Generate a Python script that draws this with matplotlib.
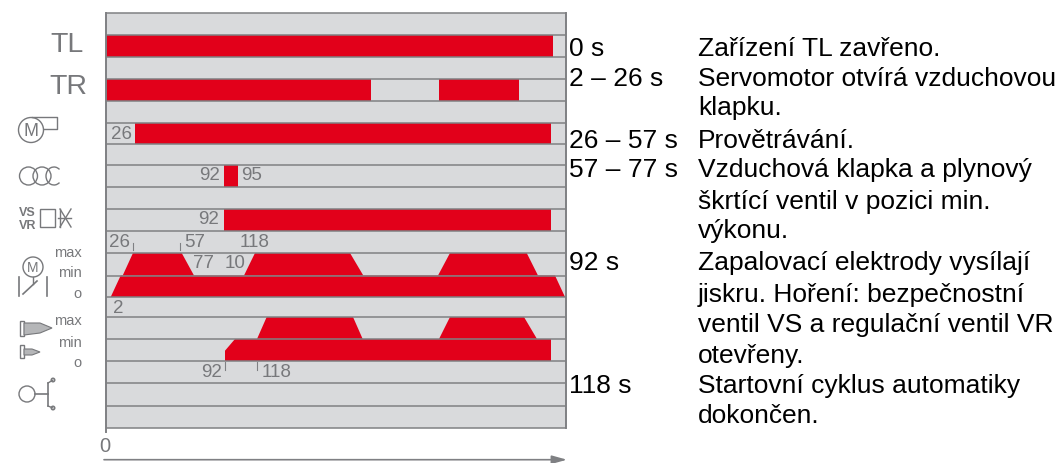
#!/usr/bin/env python3
"""Start-up cycle diagram of a burner control unit, redrawn in image pixel units."""

import matplotlib
matplotlib.use("Agg")
import matplotlib.pyplot as plt
from matplotlib.patches import Arc, Circle, Polygon, Rectangle

GREY_BG = "#d9dadc"
LINE = "#7f8083"
RED = "#e2001a"
LABEL = "#77787b"

chart_left = 106
chart_right = 566
row_edges = [13.5, 35.7, 58, 80, 102, 124, 144.5, 166, 188, 210, 232, 254, 276.5, 298, 318, 340, 362, 384, 406.5, 429]

# (row, start, end) full-height red bars
bar_rows = [1, 3, 3, 5, 7, 9]
bar_starts = [106, 106, 438.5, 135, 224, 224]
bar_ends = [553, 371, 519, 551, 237.5, 551]

# (row, bottom left, top left, top right, bottom right) ramps
ramp_rows = [11, 11, 11, 12, 14, 14]
ramp_bottom_left = [122.7, 244, 438, 110.7, 257, 439]
ramp_top_left = [133, 255, 450, 120.7, 266.7, 450]
ramp_top_right = [181.7, 350, 526.7, 555, 353, 524]
ramp_bottom_right = [194, 363.3, 538, 565, 362.7, 537]

# row 15 opens with a stepped edge
min_flame_x = [225, 235, 551, 551, 225]
min_flame_y = [351.7, 340, 340, 362, 362]

time_labels = ["0 s", "2 – 26 s", "26 – 57 s", "57 – 77 s", "92 s", "118 s"]
time_baselines = [55.7, 85.7, 148, 177, 270, 393]
step_lines = [
    "Zařízení TL zavřeno.",
    "Servomotor otvírá vzduchovou",
    "klapku.",
    "Provětrávání.",
    "Vzduchová klapka a plynový",
    "škrtící ventil v pozici min.",
    "výkonu.",
    "Zapalovací elektrody vysílají",
    "jiskru. Hoření: bezpečnostní",
    "ventil VS a regulační ventil VR",
    "otevřeny.",
    "Startovní cyklus automatiky",
    "dokončen.",
]
step_baselines = [55.7, 85.7, 115, 148, 177, 209, 238, 270, 302, 332, 363, 393, 423]

# small grey numbers inside the chart
mark_labels = ["26", "92", "95", "92", "26", "57", "118", "77", "10", "2", "92", "118"]
mark_x = [121, 210, 252, 209, 120, 195, 255, 203, 235, 118, 212, 277]
mark_y = [135, 176, 176, 220, 243, 243, 243, 264, 264, 309, 373, 373]

level_labels = ["max", "min", "o", "max", "min", "o"]
level_y = [253, 273, 294, 321, 343, 363]

plt.rcParams["font.family"] = ["Liberation Sans", "DejaVu Sans"]

fig = plt.figure(figsize=(10.62, 4.64), dpi=100)
ax = fig.add_axes([0, 0, 1, 1])
ax.set_xlim(0, 1062)
ax.set_ylim(464, 0)
ax.axis("off")


def draw_chart():
    ax.add_patch(Rectangle((chart_left, row_edges[0]), chart_right - chart_left, row_edges[-1] - row_edges[0],
                           facecolor=GREY_BG, edgecolor="none", zorder=1))
    for row, start, end in zip(bar_rows, bar_starts, bar_ends):
        ax.add_patch(Rectangle((start, row_edges[row]), end - start, row_edges[row + 1] - row_edges[row],
                               facecolor=RED, edgecolor="none", zorder=2))
    for row, bl, tl, tr, br in zip(ramp_rows, ramp_bottom_left, ramp_top_left, ramp_top_right, ramp_bottom_right):
        top, bottom = row_edges[row], row_edges[row + 1]
        ax.add_patch(Polygon([(bl, bottom), (tl, top), (tr, top), (br, bottom)],
                             facecolor=RED, edgecolor="none", zorder=2))
    ax.fill(min_flame_x, min_flame_y, color=RED, lw=0, zorder=2)

    for edge in row_edges:
        ax.plot([chart_left, chart_right], [edge, edge], color=LINE, lw=1.1, zorder=3, solid_capstyle="butt")
    ax.plot([chart_left, chart_left], [row_edges[0], row_edges[-1] + 4], color=LINE, lw=1.4, zorder=3)
    ax.plot([chart_right, chart_right], [row_edges[0], row_edges[-1]], color=LINE, lw=1.4, zorder=3)

    # time arrow
    ax.annotate("", xy=(567, 460.7), xytext=(104, 460.7),
                arrowprops=dict(arrowstyle="-|>,head_length=0.9,head_width=0.25", color=LINE, lw=1.2,
                                shrinkA=0, shrinkB=0))
    ax.text(105, 446.5, "0", color=LABEL, fontsize=14.5, ha="center", va="center")

    # little ticks beside the numbers
    for x, y0, y1 in [(133, 244, 251), (180, 244, 251), (225, 363, 371), (257, 363, 371)]:
        ax.plot([x, x], [y0, y1], color=LINE, lw=0.8, zorder=3)


def draw_icons():
    kw = dict(facecolor="none", edgecolor=LABEL, lw=1.0, zorder=3)
    ax.text(67, 45.5, "TL", color=LABEL, fontsize=20.5, ha="center", va="center")
    ax.text(68.5, 87.5, "TR", color=LABEL, fontsize=20.5, ha="center", va="center")

    # motor with flap
    ax.add_patch(Circle((31, 131), 12.5, **kw))
    ax.text(31, 132, "M", color=LABEL, fontsize=13, ha="center", va="center")
    ax.plot([32, 57, 57, 44], [117.5, 117.5, 130, 130], color=LABEL, lw=1.0)

    # ignition transformer coils
    ax.add_patch(Circle((28.5, 177), 9, **kw))
    ax.add_patch(Circle((42, 177), 9, **kw))
    ax.add_patch(Arc((54, 177), 16, 18, theta1=50, theta2=310, edgecolor=LABEL, lw=1.0, zorder=3))

    # gas valves
    ax.text(27.5, 213, "VS", color=LABEL, fontsize=9, ha="center", va="center", fontweight="bold")
    ax.text(27.5, 226, "VR", color=LABEL, fontsize=9, ha="center", va="center", fontweight="bold")
    ax.add_patch(Rectangle((40, 210), 15, 18, **kw))
    ax.plot([60, 71], [210, 228], color=LABEL, lw=1.0)
    ax.plot([71, 60], [210, 228], color=LABEL, lw=1.0)
    ax.plot([60, 60], [210, 228], color=LABEL, lw=1.0)
    ax.plot([58, 71], [219, 219], color=LABEL, lw=1.0)

    # servomotor with damper
    ax.add_patch(Circle((33, 268), 10, **kw))
    ax.text(33, 268.5, "M", color=LABEL, fontsize=10, ha="center", va="center")
    ax.plot([33, 33], [278, 285], color=LABEL, lw=1.0)
    ax.plot([19, 19], [278, 297], color=LABEL, lw=1.2)
    ax.plot([47, 47], [278, 297], color=LABEL, lw=1.2)
    ax.plot([23, 37], [295, 282], color=LABEL, lw=1.2)

    # burner nozzles
    ax.add_patch(Rectangle((20, 322), 4, 15, **kw))
    ax.add_patch(Polygon([(24, 324), (40, 324), (52, 329), (40, 334), (24, 336)],
                         facecolor="#b5b6b8", edgecolor=LABEL, lw=0.8, zorder=3))
    ax.add_patch(Rectangle((20, 346), 4, 13, **kw))
    ax.add_patch(Polygon([(24, 350), (32, 350), (40, 353), (32, 356), (24, 356)],
                         facecolor="#b5b6b8", edgecolor=LABEL, lw=0.8, zorder=3))

    # pressure switch
    ax.add_patch(Circle((27, 395), 8, **kw))
    ax.plot([35, 48], [395, 395], color=LABEL, lw=1.2)
    ax.plot([48, 48], [384, 407], color=LABEL, lw=1.2)
    ax.plot([48, 53], [384, 381], color=LABEL, lw=1.0)
    ax.plot([48, 53], [407, 409], color=LABEL, lw=1.0)
    ax.add_patch(Circle((53, 381), 1.8, **kw))
    ax.add_patch(Circle((53, 409), 1.8, **kw))


def draw_text():
    for label, x, y in zip(mark_labels, mark_x, mark_y):
        ax.text(x, y, label, color=LABEL, fontsize=13.5, ha="center", va="center", zorder=4)
    for label, y in zip(level_labels, level_y):
        ax.text(82, y, label, color=LABEL, fontsize=10.5, ha="right", va="center", zorder=4)
    for label, y in zip(time_labels, time_baselines):
        ax.text(569, y, label, color="black", fontsize=19, ha="left", va="baseline", zorder=4)
    for label, y in zip(step_lines, step_baselines):
        ax.text(698, y, label, color="black", fontsize=19, ha="left", va="baseline", zorder=4)


draw_chart()
draw_icons()
draw_text()
fig.savefig("out.png", dpi=100)
